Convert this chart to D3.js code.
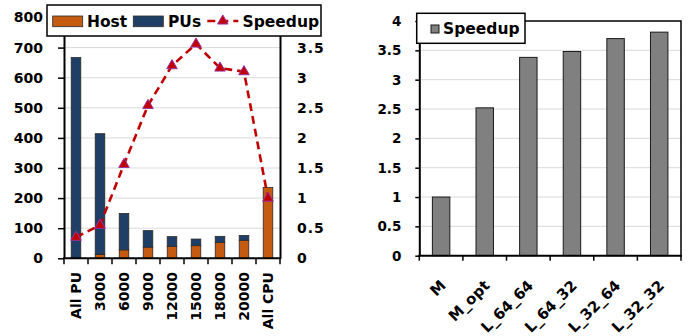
<!DOCTYPE html>
<html><head><meta charset="utf-8">
<script src="https://cdn.jsdelivr.net/npm/d3@7"></script>
<style>
html,body{margin:0;padding:0;background:#fff;}
svg text{font-family:'DejaVu Sans',sans-serif;font-weight:bold;fill:#000;}
</style></head>
<body>
<svg id="c" width="691" height="336"></svg>
<script>
// ---- data: left chart ----
const leftCats = ["All PU","3000","6000","9000","12000","15000","18000","20000","All CPU"];
const hostVals = [0, 13, 28, 37, 40, 42, 53, 60, 235];
const puVals   = [667, 401, 121, 55, 32, 22, 20, 16, 0];
const leftSpeedup = [0.35, 0.55, 1.56, 2.54, 3.2, 3.56, 3.16, 3.1, 1.0];
const leftTicks = [0,100,200,300,400,500,600,700,800];
const leftRightTicks = [0,0.5,1,1.5,2,2.5,3,3.5];
// ---- data: right chart ----
const rightCats = ["M","M_opt","L_64_64","L_64_32","L_32_64","L_32_32"];
const rightSpeedup = [1.0, 2.52, 3.38, 3.48, 3.70, 3.81];
const rightTicks = [0,0.5,1,1.5,2,2.5,3,3.5,4];

const hostColor = "#C55A11", puColor = "#1F3F66", lineColor = "#C00000", markStroke = "#9E2FA0";
const svg = d3.select("#c");

// ================= LEFT CHART =================
const L = {x0:64, x1:280, y0:258.3, y1:17.5};
const lx = d3.scaleBand().domain(leftCats).range([L.x0, L.x1]).paddingInner(0.6).paddingOuter(0.3);
const ly = d3.scaleLinear().domain([0,800]).range([L.y0, L.y1]);
const ly2 = d3.scaleLinear().domain([0,4]).range([L.y0, L.y1]);
const gl = svg.append("g");

// gridlines
gl.append("g").selectAll("line").data(leftTicks.filter(d=>d>0)).join("line")
  .attr("x1", L.x0).attr("x2", L.x1).attr("y1", d=>ly(d)).attr("y2", d=>ly(d))
  .attr("stroke", "#d9d9d9").attr("stroke-width", 1);

// stacked bars
const stackData = leftCats.map((c,i)=>({cat:c, host:hostVals[i], pu:puVals[i]}));
const stack = d3.stack().keys(["host","pu"])(stackData);
const colors = {host:hostColor, pu:puColor};
stack.forEach(layer=>{
  gl.append("g").selectAll("rect").data(layer.filter(d=>d[1]-d[0]>0)).join("rect")
    .attr("x", d=>lx(d.data.cat)).attr("width", lx.bandwidth())
    .attr("y", d=>ly(d[1])).attr("height", d=>ly(d[0])-ly(d[1]))
    .attr("fill", colors[layer.key]).attr("stroke", "#2b2b2b").attr("stroke-width", 0.8);
});

// left axis
const axL = gl.append("g").attr("transform", `translate(${L.x0},0)`)
  .call(d3.axisLeft(ly).tickValues(leftTicks).tickSize(6).tickSizeOuter(0).tickPadding(15));
axL.select(".domain").attr("stroke","#000").attr("stroke-width",2);
axL.selectAll(".tick line").attr("stroke","#000").attr("stroke-width",1.5);
axL.selectAll("text").style("font-size","14px");

// right axis
const axR = gl.append("g").attr("transform", `translate(${L.x1},0)`)
  .call(d3.axisRight(ly2).tickValues(leftRightTicks).tickSize(0).tickSizeOuter(0).tickPadding(17).tickFormat(d=>String(d)));
axR.select(".domain").attr("stroke","#000").attr("stroke-width",2);
axR.selectAll("text").style("font-size","14px").style("letter-spacing","1px");

// x axis
gl.append("line").attr("x1", L.x0-1).attr("x2", L.x1+1).attr("y1", L.y0).attr("y2", L.y0)
  .attr("stroke","#000").attr("stroke-width",2);
const lBounds = d3.range(leftCats.length+1).map(i=>L.x0 + i*lx.step());
gl.append("g").selectAll("line").data(lBounds).join("line")
  .attr("x1", d=>d).attr("x2", d=>d).attr("y1", L.y0).attr("y2", L.y0+6)
  .attr("stroke","#000").attr("stroke-width",1.5);
gl.append("g").selectAll("text").data(leftCats).join("text")
  .attr("transform", d=>`translate(${lx(d)+lx.bandwidth()/2},272) rotate(-90)`)
  .attr("text-anchor","end").attr("dy","0.36em").style("font-size","14px").text(d=>d);

// speedup line
const line = d3.line().x((d,i)=>lx(leftCats[i])+lx.bandwidth()/2).y(d=>ly2(d));
gl.append("path").datum(leftSpeedup).attr("d", line).attr("fill","none")
  .attr("stroke", lineColor).attr("stroke-width",2.6).attr("stroke-dasharray","8,5");
const tri = d3.symbol().type(d3.symbolTriangle).size(48);
gl.append("g").selectAll("path").data(leftSpeedup).join("path")
  .attr("transform", (d,i)=>`translate(${lx(leftCats[i])+lx.bandwidth()/2},${ly2(d)})`)
  .attr("d", tri).attr("fill", lineColor).attr("stroke", markStroke).attr("stroke-width",1);

// legend
const lg = gl.append("g");
lg.append("rect").attr("x",47).attr("y",5).attr("width",274).attr("height",31)
  .attr("fill","#fff").attr("stroke","#000").attr("stroke-width",1.5);
const legItems = [
  {type:"rect", color:hostColor, label:"Host", sx:52.7, tx:87},
  {type:"rect", color:puColor, label:"PUs", sx:133.3, tx:168},
  {type:"line", color:lineColor, label:"Speedup", sx:207.3, tx:242.5}
];
legItems.forEach(it=>{
  if(it.type==="rect"){
    lg.append("rect").attr("x",it.sx).attr("y",16).attr("width",30).attr("height",10.7)
      .attr("fill",it.color).attr("stroke","#2b2b2b").attr("stroke-width",0.8);
  } else {
    lg.append("line").attr("x1",it.sx).attr("x2",it.sx+31).attr("y1",21).attr("y2",21)
      .attr("stroke",it.color).attr("stroke-width",2.6).attr("stroke-dasharray","8,5");
    lg.append("path").attr("transform",`translate(${it.sx+15.5},21)`).attr("d",tri)
      .attr("fill",lineColor).attr("stroke",markStroke).attr("stroke-width",1);
  }
  lg.append("text").attr("x",it.tx).attr("y",26.7).style("font-size","15.5px").text(it.label);
});

// ================= RIGHT CHART =================
const R = {x0:419.3, x1:681, y0:255.7, y1:21};
const rx = d3.scaleBand().domain(rightCats).range([R.x0, R.x1]).paddingInner(0.6).paddingOuter(0.3);
const ry = d3.scaleLinear().domain([0,4]).range([R.y0, R.y1]);
const gr = svg.append("g");

gr.append("g").selectAll("line").data(rightTicks.filter(d=>d>0 && d<4)).join("line")
  .attr("x1", R.x0).attr("x2", R.x1).attr("y1", d=>ry(d)).attr("y2", d=>ry(d))
  .attr("stroke","#d9d9d9").attr("stroke-width",1);

gr.append("g").selectAll("rect").data(rightSpeedup).join("rect")
  .attr("x",(d,i)=>rx(rightCats[i])).attr("width", rx.bandwidth())
  .attr("y", d=>ry(d)).attr("height", d=>ry(0)-ry(d))
  .attr("fill","#808080").attr("stroke","#1a1a1a").attr("stroke-width",1);

// frame
gr.append("path").attr("d", `M${R.x0},${R.y1}H${R.x1}V${R.y0}`).attr("fill","none")
  .attr("stroke","#000").attr("stroke-width",1.5);

const ayR = gr.append("g").attr("transform",`translate(${R.x0},0)`)
  .call(d3.axisLeft(ry).tickValues(rightTicks).tickSize(4).tickSizeOuter(0).tickPadding(14).tickFormat(d=>String(d)));
ayR.select(".domain").attr("stroke","#000").attr("stroke-width",2);
ayR.selectAll(".tick line").attr("stroke","#000").attr("stroke-width",1.5);
ayR.selectAll("text").style("font-size","13.5px");

gr.append("line").attr("x1",R.x0-1).attr("x2",R.x1+1).attr("y1",R.y0).attr("y2",R.y0)
  .attr("stroke","#000").attr("stroke-width",2);
const rBounds = d3.range(rightCats.length+1).map(i=>R.x0 + i*rx.step());
gr.append("g").selectAll("line").data(rBounds).join("line")
  .attr("x1",d=>d).attr("x2",d=>d).attr("y1",R.y0).attr("y2",R.y0+5)
  .attr("stroke","#000").attr("stroke-width",1.5);
gr.append("g").selectAll("text").data(rightCats).join("text")
  .attr("transform", d=>`translate(${rx(d)+rx.bandwidth()/2+2},${R.y0+27}) rotate(-45)`)
  .attr("text-anchor","end").attr("dy","0.36em").style("font-size","15px").text(d=>d);

// legend
const rl = gr.append("g");
rl.append("rect").attr("x",416.7).attr("y",13.3).attr("width",108.3).attr("height",30)
  .attr("fill","#fff").attr("stroke","#000").attr("stroke-width",1.5);
rl.append("rect").attr("x",431).attr("y",25).attr("width",8).attr("height",8)
  .attr("fill","#808080").attr("stroke","#1a1a1a").attr("stroke-width",1);
rl.append("text").attr("x",443).attr("y",33.5).style("font-size","15.5px").text("Speedup");
</script>
</body></html>
